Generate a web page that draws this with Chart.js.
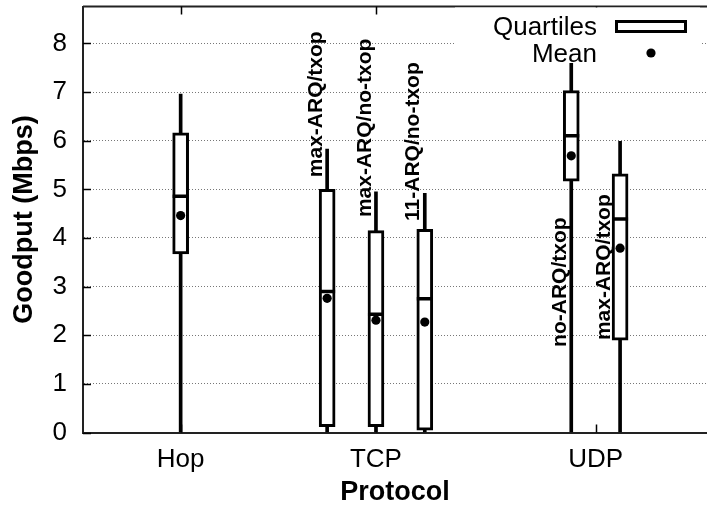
<!DOCTYPE html>
<html>
<head>
<meta charset="utf-8">
<title>Goodput by protocol</title>
<script src="https://cdn.jsdelivr.net/npm/chart.js@4.4.0/dist/chart.umd.min.js"></script>
<style>
  html, body { margin: 0; padding: 0; background: #fff; overflow: hidden; }
  canvas { display: block; }
</style>
</head>
<body>
<canvas id="chart" width="707" height="512"></canvas>
<script>
// Protocol groups and where their tick sits on the x axis
const groupNames = ['Hop', 'TCP', 'UDP'];
const groupCenters = [4, 12, 21];

// One box per configuration; configGroup links each box to its protocol group
const configNames = ['', 'max-ARQ/txop', 'max-ARQ/no-txop', '11-ARQ/no-txop', 'no-ARQ/txop', 'max-ARQ/txop'];
const configGroup = [0, 1, 1, 1, 2, 2];

// Goodput statistics (Mbps)
const minVals    = [0.00, 0.00, 0.00, 0.00, 0.00, 0.00];
const q1Vals     = [3.67, 0.12, 0.12, 0.05, 5.17, 1.90];
const medianVals = [4.86, 2.90, 2.43, 2.75, 6.10, 4.39];
const q3Vals     = [6.16, 5.00, 4.15, 4.18, 7.03, 5.32];
const maxVals    = [6.96, 5.83, 4.95, 4.92, 7.59, 5.99];
const meanVals   = [4.46, 2.76, 2.31, 2.27, 5.69, 3.79];

// Anchor (x, y in data units) where each rotated configuration label starts
const labelAnchorX = [null, 9.54, 11.54, 13.52, 19.54, 21.35];
const labelAnchorY = [null, 5.25, 4.43, 4.35, 1.76, 1.90];

const yTickValues = [0, 1, 2, 3, 4, 5, 6, 7, 8];

// Boxes inside a group are spread two x-units apart around the group tick
const boxX = configGroup.map((g, i) => {
  const members = configGroup.map((gg, j) => (gg === g ? j : -1)).filter(j => j >= 0);
  const k = members.indexOf(i);
  return groupCenters[g] + (k - (members.length - 1) / 2) * 2;
});

const INK = '#000';
const AXIS = '#222';
const FONT = "'Liberation Sans', Arial, Helvetica, sans-serif";

// Scales should not reserve extra room for half-labels at the ends
function noEdgePadding(scale) {
  scale.paddingTop = 0;
  scale.paddingBottom = 0;
  scale.paddingLeft = 0;
  scale.paddingRight = 0;
}

// Top frame line plus gnuplot-style inward tick marks
const framePlugin = {
  id: 'frameTicks',
  beforeDatasetsDraw(chart) {
    const { ctx, chartArea: a, scales: { x, y } } = chart;
    ctx.save();
    ctx.strokeStyle = AXIS;
    ctx.lineWidth = 2;
    ctx.beginPath();
    ctx.moveTo(a.left, a.top);
    ctx.lineTo(a.right, a.top);
    ctx.stroke();
    ctx.strokeStyle = INK;
    ctx.lineWidth = 1.5;
    ctx.beginPath();
    yTickValues.forEach(v => {
      const py = Math.round(y.getPixelForValue(v)) + 0.5;
      ctx.moveTo(a.left, py);
      ctx.lineTo(a.left + 8, py);
    });
    groupCenters.forEach(v => {
      const px = Math.round(x.getPixelForValue(v)) + 0.5;
      ctx.moveTo(px, a.top);
      ctx.lineTo(px, a.top + 8);
      ctx.moveTo(px, a.bottom);
      ctx.lineTo(px, a.bottom - 8);
    });
    ctx.stroke();
    ctx.restore();
  }
};

// Key in the upper right corner: text on the left, sample on the right
const keyPlugin = {
  id: 'boxKey',
  beforeDatasetsDraw(chart) {
    const { ctx, chartArea: a } = chart;
    const boxes = chart.data.datasets[1];
    const means = chart.data.datasets[3];
    ctx.save();
    ctx.fillStyle = '#fff';
    ctx.fillRect(455, a.top + 1, a.right - 7 - 455, 60);
    ctx.fillStyle = INK;
    ctx.font = '26px ' + FONT;
    ctx.textAlign = 'right';
    ctx.textBaseline = 'middle';
    ctx.fillText('Quartiles', 597, 28);
    ctx.fillText('Mean', 597, 55);
    ctx.fillStyle = boxes.backgroundColor;
    ctx.strokeStyle = boxes.borderColor;
    ctx.lineWidth = boxes.borderWidth;
    ctx.fillRect(616.5, 21.5, 69, 10);
    ctx.strokeRect(616.5, 21.5, 69, 10);
    ctx.fillStyle = means.backgroundColor;
    ctx.beginPath();
    ctx.arc(651, 53, means.pointRadius, 0, Math.PI * 2);
    ctx.fill();
    ctx.restore();
  }
};

// Rotated configuration names next to each box
const boxLabelPlugin = {
  id: 'boxLabels',
  afterDatasetsDraw(chart) {
    const { ctx, scales: { x, y } } = chart;
    ctx.save();
    ctx.fillStyle = INK;
    ctx.font = 'bold 21px ' + FONT;
    ctx.textAlign = 'left';
    ctx.textBaseline = 'middle';
    configNames.forEach((name, i) => {
      if (!name) return;
      ctx.save();
      ctx.translate(x.getPixelForValue(labelAnchorX[i]), y.getPixelForValue(labelAnchorY[i]));
      ctx.rotate(-Math.PI / 2);
      ctx.fillText(name, 0, 0);
      ctx.restore();
    });
    ctx.restore();
  }
};

new Chart(document.getElementById('chart'), {
  type: 'bar',
  data: {
    datasets: [
      {
        label: 'Range',
        data: boxX.map((bx, i) => ({ x: bx, y: [minVals[i], maxVals[i]] })),
        backgroundColor: INK,
        borderWidth: 0,
        barThickness: 3,
        grouped: false,
        order: 4
      },
      {
        label: 'Quartiles',
        data: boxX.map((bx, i) => ({ x: bx, y: [q1Vals[i], q3Vals[i]] })),
        backgroundColor: '#fff',
        borderColor: INK,
        borderWidth: 3,
        borderSkipped: false,
        barThickness: 16,
        grouped: false,
        order: 3
      },
      {
        type: 'scatter',
        label: 'Median',
        data: boxX.map((bx, i) => ({ x: bx, y: medianVals[i] })),
        pointStyle: 'line',
        pointRadius: 8,
        pointBorderWidth: 3.5,
        borderColor: INK,
        backgroundColor: INK,
        order: 2
      },
      {
        type: 'scatter',
        label: 'Mean',
        data: boxX.map((bx, i) => ({ x: bx, y: meanVals[i] })),
        pointStyle: 'circle',
        pointRadius: 4.6,
        pointBorderWidth: 0,
        backgroundColor: INK,
        borderColor: INK,
        order: 1
      }
    ]
  },
  options: {
    responsive: false,
    animation: false,
    devicePixelRatio: 1,
    layout: { autoPadding: false, padding: { top: 6.5, right: 0, bottom: 0, left: 0 } },
    plugins: {
      legend: { display: false },
      tooltip: { enabled: false },
      title: { display: false }
    },
    scales: {
      x: {
        type: 'linear',
        min: 0,
        max: 25.56,
        offset: false,
        afterFit(scale) { scale.height = 79.5; noEdgePadding(scale); },
        afterBuildTicks(scale) { scale.ticks = groupCenters.map(v => ({ value: v })); },
        grid: { display: false, offset: false, drawTicks: false },
        border: { display: true, color: AXIS, width: 2 },
        ticks: {
          autoSkip: false,
          maxRotation: 0,
          padding: 12,
          color: INK,
          font: { family: FONT, size: 26 },
          callback: v => groupNames[groupCenters.indexOf(v)]
        },
        title: {
          display: true,
          text: 'Protocol',
          color: INK,
          font: { family: FONT, size: 27, weight: 'bold' },
          padding: { top: 0, bottom: 3 }
        }
      },
      y: {
        type: 'linear',
        min: 0,
        max: 8.76,
        afterFit(scale) { scale.width = 83; noEdgePadding(scale); },
        afterBuildTicks(scale) { scale.ticks = yTickValues.map(v => ({ value: v })); },
        grid: {
          drawTicks: false,
          lineWidth: 1,
          color: c => (c.tick && c.tick.value === 0 ? 'rgba(0,0,0,0)' : '#777')
        },
        border: { display: true, color: AXIS, width: 2, dash: [1, 2] },
        ticks: {
          padding: 16,
          color: INK,
          font: { family: FONT, size: 26 }
        },
        title: {
          display: true,
          text: 'Goodput (Mbps)',
          color: INK,
          font: { family: FONT, size: 27, weight: 'bold' },
          padding: { top: 8, bottom: 0 }
        }
      }
    }
  },
  plugins: [framePlugin, keyPlugin, boxLabelPlugin]
});
</script>
</body>
</html>
